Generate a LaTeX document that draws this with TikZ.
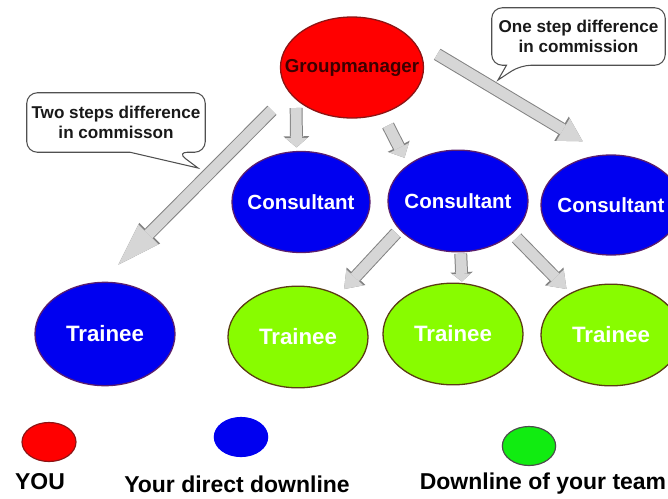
\documentclass[tikz,border=0pt]{standalone}
\usepackage{fontspec}
\setmainfont{Liberation Sans}
\usepackage{xcolor}
\usepackage{tikz}
\usetikzlibrary{shapes,arrows.meta,backgrounds}

\definecolor{gmred}{RGB}{255,0,0}
\definecolor{gmedge}{RGB}{140,20,20}
\definecolor{gmtext}{RGB}{60,0,0}
\definecolor{consblue}{RGB}{0,0,240}
\definecolor{consedge}{RGB}{90,30,110}
\definecolor{trgreen}{RGB}{136,252,0}
\definecolor{tredge}{RGB}{90,60,20}
\definecolor{teamgreen}{RGB}{17,236,17}
\definecolor{arrfill}{RGB}{214,214,214}
\definecolor{arredge}{RGB}{130,130,130}
\definecolor{bubbleedge}{RGB}{80,80,80}

\newcommand{\slim}[1]{\makebox[0pt]{#1}}

\begin{document}
\begin{tikzpicture}[
    x=0.03cm, y=-0.03cm,
    member/.style={ellipse, draw, line width=1.1pt, inner sep=0pt, text=white},
    cons/.style={member, fill=consblue, draw=consedge, minimum width=4.2cm, minimum height=3.05cm, font=\bfseries\fontsize{17.5}{20}\selectfont},
    trainee/.style={member, minimum width=4.2cm, minimum height=3.05cm, font=\bfseries\fontsize{19}{22}\selectfont},
    keydot/.style={ellipse, inner sep=0pt, line width=1pt, minimum width=1.6cm, minimum height=1.17cm},
    keytext/.style={font=\bfseries\fontsize{19.6}{22}\selectfont},
    bubbletext/.style={align=center, inner sep=0pt, text=black!90, font=\bfseries\fontsize{14.6}{17}\selectfont},
    bubble/.style={draw=bubbleedge, line width=0.9pt, fill=white, rounded corners=9pt},
    fat/.style n args={3}{draw=arrfill, line width=9.3pt,
        -{Triangle[length=#1, width=#2, scale=#3, line width=0pt]},
        preaction={draw=arredge, line width=11pt,
            -{Triangle[length=#1, width=#2, line width=0pt]}}}
]
\useasboundingbox (0,0) rectangle (668,498);
\clip (0,0) rectangle (668,498);

% group manager
\node[member, fill=gmred, draw=gmedge, text=gmtext, minimum width=4.29cm, minimum height=3.03cm, font=\bfseries\fontsize{16}{19}\selectfont] (gm) at (352,67.5) {\slim{Groupmanager}};

% consultants
\node[cons, minimum width=4.14cm, minimum height=3.03cm] (c1) at (301,202) {\slim{Consultant}};
\node[cons] (c2) at (458,201) {\slim{Consultant}};
\node[cons, minimum height=3cm] (c3) at (611,205) {\slim{Consultant}};

% trainees
\node[trainee, fill=consblue, draw=consedge, minimum height=3.1cm] (tr0) at (105,334) {\slim{Trainee}};
\node[trainee, fill=trgreen, draw=tredge] (tr1) at (298,337) {\slim{Trainee}};
\node[trainee, fill=trgreen, draw=tredge] (tr2) at (453,334) {\slim{Trainee}};
\node[trainee, fill=trgreen, draw=tredge] (tr3) at (611,335) {\slim{Trainee}};

% speech bubbles
\node[bubbletext, minimum width=5.19cm, minimum height=1.71cm] (onestep) at (578.5,36.5) {One step difference\\in commission};
\node[bubbletext, minimum width=5.34cm, minimum height=1.77cm] (twosteps) at (116,122.5) {Two steps difference\\in commisson};
\coordinate (onetip) at (498,80);
\coordinate (twotip) at (198,168);
\begin{scope}[on background layer]
  \draw[bubble] ([shift={(-58,0)}]onestep.south) [sharp corners] -- (onetip) -- ([shift={(-72,0)}]onestep.south) [rounded corners=9pt] -- (onestep.south west) -- (onestep.north west) -- (onestep.north east) -- (onestep.south east) -- cycle;
  \draw[bubble] ([shift={(61,0)}]twosteps.south) [sharp corners] -- (twotip) -- ([shift={(14,0)}]twosteps.south) [rounded corners=9pt] -- (twosteps.south west) -- (twosteps.north west) -- (twosteps.north east) -- (twosteps.south east) -- cycle;
\end{scope}

% arrows from the group manager
\draw[fat={38pt}{25pt}{0.96}, shorten <=21pt, shorten >=20.5pt] (gm.202) -- (tr0.94);
\draw[fat={9.5pt}{22pt}{0.85}, shorten <=7pt, shorten >=3pt] (gm.210) -- (c1.95);
\draw[fat={11pt}{21pt}{0.87}, shorten <=11pt, shorten >=6.6pt] (gm.303) -- (c2.144);
\draw[fat={21pt}{24pt}{0.93}, shorten <=24.8pt, shorten >=22pt] (gm.25) -- (c3.97);

% arrows from the middle consultant
\draw[fat={15pt}{22pt}{0.9}, shorten <=4pt, shorten >=6.8pt] (c2.206) -- (tr1.46);
\draw[fat={8pt}{19pt}{0.82}, shorten <=1pt, shorten >=1.2pt] (c2.273) -- (tr2.80);
\draw[fat={15pt}{22pt}{0.9}, shorten <=5pt, shorten >=4.7pt] (c2.329) -- (tr3.134);

% legend
\node[keydot, fill=gmred, draw=gmedge, minimum width=1.62cm] (youdot) at (49,442) {};
\node[keydot, fill=consblue, draw=consblue] (directdot) at (241,437) {};
\node[keydot, fill=teamgreen, draw=black!70] (teamdot) at (529,446) {};
\node[keytext] (youlbl) at (40,482) {YOU};
\node[keytext] (directlbl) at (237,484) {Your direct downline};
\node[keytext] (teamlbl) at (543,484) {Downline of your team};

\end{tikzpicture}
\end{document}
